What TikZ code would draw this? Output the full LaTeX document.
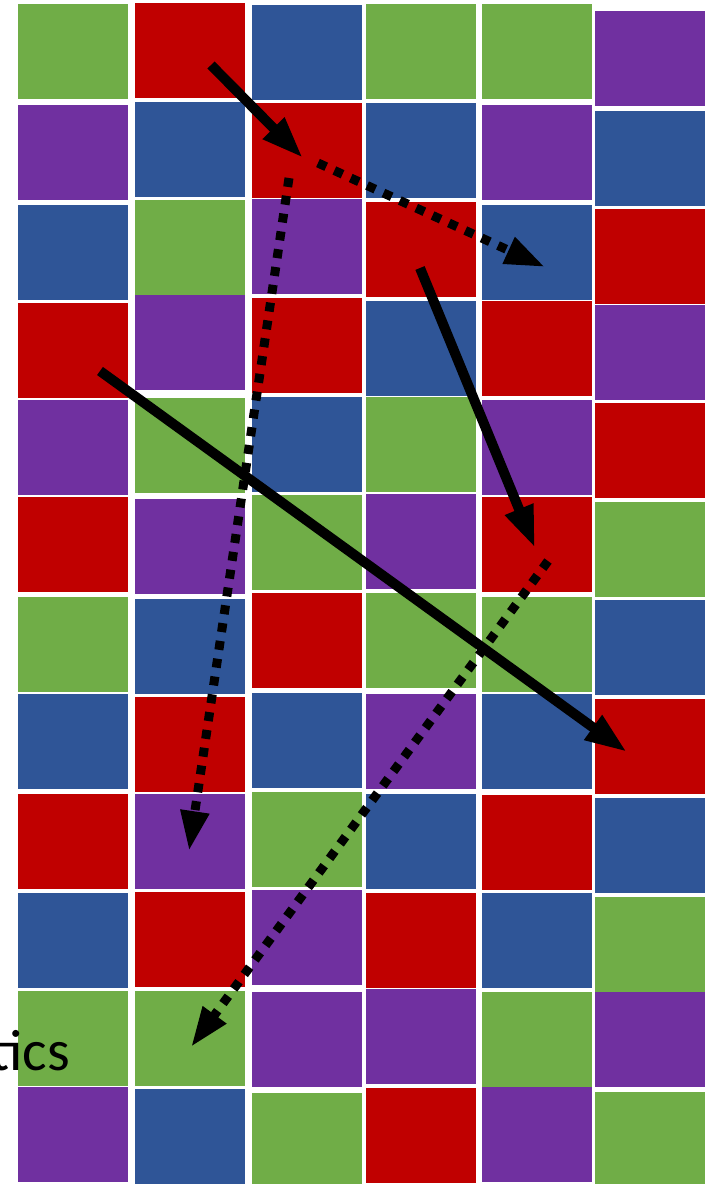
\documentclass[tikz,border=0pt]{standalone}
\usepackage{fontspec}
\setmainfont{Carlito}
\usetikzlibrary{arrows.meta,positioning}
\definecolor{gr}{HTML}{70AD47}
\definecolor{rd}{HTML}{C00000}
\definecolor{bl}{HTML}{2F5597}
\definecolor{pu}{HTML}{7030A0}

\begin{document}
\begin{tikzpicture}[x=1pt,y=-1pt,
  cell/.style={inner sep=0,outer sep=0,minimum width=110pt,minimum height=95pt,anchor=north west},
  solidarrow/.style={line width=10pt,-{Triangle[length=42pt,width=28pt]}},
  dotarrow/.style={line width=9pt,dash pattern=on 9pt off 9pt,-{Triangle[length=40pt,width=27pt]}}]
  \useasboundingbox (0,0) rectangle (715,1184);
  % grid of squares, one loop per column
  \foreach \y/\c [count=\r] in {4/gr,105/pu,205/bl,303/rd,400/pu,497/rd,597/gr,694/bl,794/rd,893/bl,991/gr,1087/pu}
    \node[cell,fill=\c] (c\r-1) at (18,\y) {};
  \foreach \y/\c [count=\r] in {3/rd,102/bl,200/gr,295/pu,398/gr,499/pu,599/bl,697/rd,794/pu,892/rd,991/gr,1089/bl}
    \node[cell,fill=\c] (c\r-2) at (135,\y) {};
  \foreach \y/\c [count=\r] in {5/bl,103/rd,199/pu,298/rd,397/bl,495/gr,593/rd,693/bl,792/gr,890/pu,992/pu,1093/gr}
    \node[cell,fill=\c] (c\r-3) at (252,\y) {};
  \foreach \y/\c [count=\r] in {4/gr,103/bl,202/rd,301/bl,397/gr,494/pu,593/gr,694/pu,794/bl,893/rd,989/pu,1088/rd}
    \node[cell,fill=\c] (c\r-4) at (366,\y) {};
  \foreach \y/\c [count=\r] in {4/gr,105/pu,205/bl,301/rd,400/pu,497/rd,597/gr,694/bl,795/rd,893/bl,992/gr,1087/pu}
    \node[cell,fill=\c] (c\r-5) at (482,\y) {};
  \foreach \y/\c [count=\r] in {11/pu,111/bl,209/rd,305/pu,403/rd,502/gr,600/bl,699/rd,798/bl,897/gr,992/pu,1092/gr}
    \node[cell,fill=\c] (c\r-6) at (595,\y) {};

  % label cut at the left edge
  \node[anchor=base east,inner sep=0,font=\fontsize{58}{66}\selectfont] (lbl) at (70,1070) {tics};

  % arrow ends
  \coordinate (s1) at (211,65);  \coordinate (e1) at (303,158);
  \coordinate (s2) at (318,163); \coordinate (e2) at (545,267);
  \coordinate (s3) at (289,178); \coordinate (e3) at (189,851);
  \coordinate (s4) at (420,268); \coordinate (e4) at (535,548);
  \coordinate (s5) at (548,561); \coordinate (e5) at (191,1047);
  \coordinate (s6) at (100,371); \coordinate (e6) at (627,752);

  % arrows
  \draw[solidarrow] (s1) -- (e1);
  \draw[dotarrow] (s2) -- (e2);
  \draw[dotarrow] (s3) -- (e3);
  \draw[solidarrow] (s4) -- (e4);
  \draw[dotarrow] (s5) -- (e5);
  \draw[solidarrow] (s6) -- (e6);
\end{tikzpicture}
\end{document}
